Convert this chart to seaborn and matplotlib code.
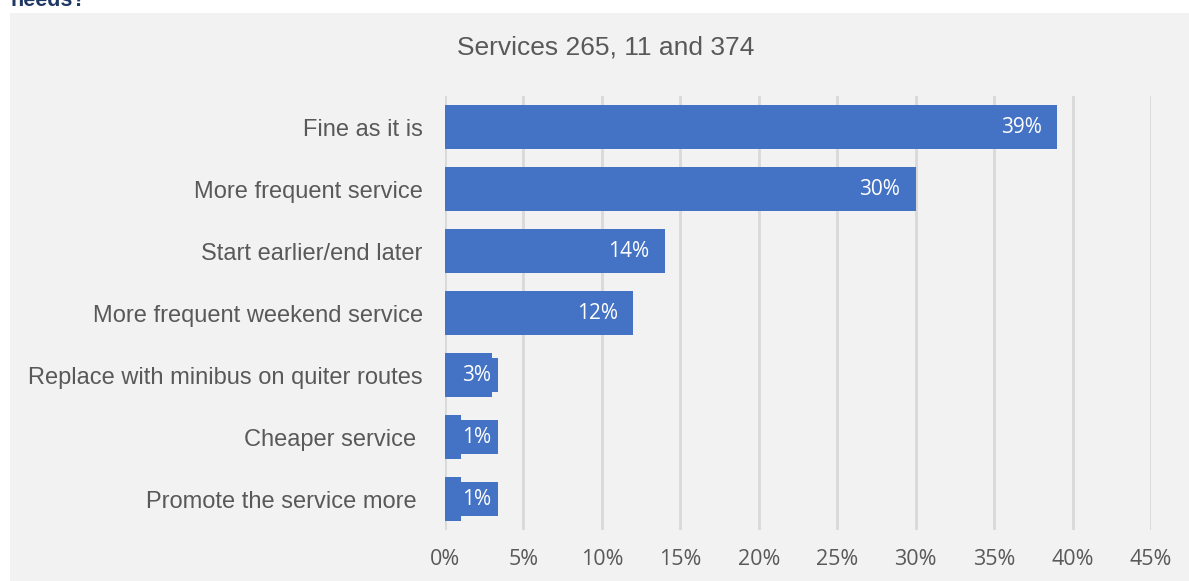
import matplotlib
matplotlib.use("Agg")
import matplotlib.pyplot as plt
from matplotlib.patches import Rectangle
import seaborn as sns
import pandas as pd

# Survey responses for services 265, 11 and 374
categories = [
    "Fine as it is",
    "More frequent service",
    "Start earlier/end later",
    "More frequent weekend service",
    "Replace with minibus on quiter routes",
    "Cheaper service ",
    "Promote the service more ",
]
shares = [39, 30, 14, 12, 3, 1, 1]
x_ticks = [0, 5, 10, 15, 20, 25, 30, 35, 40, 45]
x_tick_labels = [f"{t}%" for t in x_ticks]

BLUE = "#4472C4"
PANEL = "#F2F2F2"
GRID = "#D9D9D9"
TEXT = "#595959"

sns.set_theme(style="whitegrid")
plt.rcParams["font.family"] = ["Liberation Sans", "DejaVu Sans"]

df = pd.DataFrame({"category": categories, "share": shares})

fig = plt.figure(figsize=(11.89, 5.81), dpi=100, facecolor="white")
# chart panel background
fig.patches.append(Rectangle((10 / 1189, 0), 1 - 10 / 1189, (581 - 13) / 581,
                             transform=fig.transFigure, facecolor=PANEL,
                             edgecolor="none", zorder=-5))
# heading text above the panel, partly outside the page
fig.text(10 / 1189, 1.0, "needs?", color="#1F3864", fontsize=15.5,
         fontweight="bold", ha="left", va="center")

ax = fig.add_axes([445 / 1189, (581 - 530) / 581, (1151 - 445) / 1189, (530 - 96) / 581])
ax.set_facecolor(PANEL)

sns.barplot(data=df, x="share", y="category", orient="h", color=BLUE,
            saturation=1, width=0.7, linewidth=0, ax=ax, zorder=3)

ax.set_xlim(0, 45)
ax.set_xticks(x_ticks)
ax.set_xticklabels(x_tick_labels)
ax.set_xlabel("")
ax.set_ylabel("")
ax.grid(axis="x", color=GRID, linewidth=2)
ax.grid(axis="y", visible=False)
ax.set_axisbelow(True)
for s in ax.spines.values():
    s.set_visible(False)
ax.tick_params(axis="x", length=0, pad=14, labelsize=15.5, labelcolor=TEXT)
ax.tick_params(axis="y", length=0, pad=16, labelsize=17, labelcolor=TEXT)
for lbl in ax.get_xticklabels():
    lbl.set_family(["Open Sans", "DejaVu Sans"])

# value labels
for i, v in enumerate(shares):
    if v >= 5:
        ax.annotate(f"{v}%", xy=(v, i), xytext=(-11, 0), textcoords="offset points",
                    ha="right", va="center", color="white", fontsize=15,
                    family=["Open Sans", "DejaVu Sans"], zorder=5)
    else:
        ax.annotate(f"{v}%", xy=(0, i), xytext=(22.5, 0), textcoords="offset points",
                    ha="center", va="center", color="white", fontsize=15,
                    family=["Open Sans", "DejaVu Sans"], zorder=5,
                    bbox=dict(boxstyle="square,pad=0.33", fc=BLUE, ec="none"))

fig.text(606 / 1189, 1 - 47 / 581, "Services 265, 11 and 374", ha="center",
         va="center", color=TEXT, fontsize=19)

fig.savefig("out.png", dpi=100, facecolor="white")
